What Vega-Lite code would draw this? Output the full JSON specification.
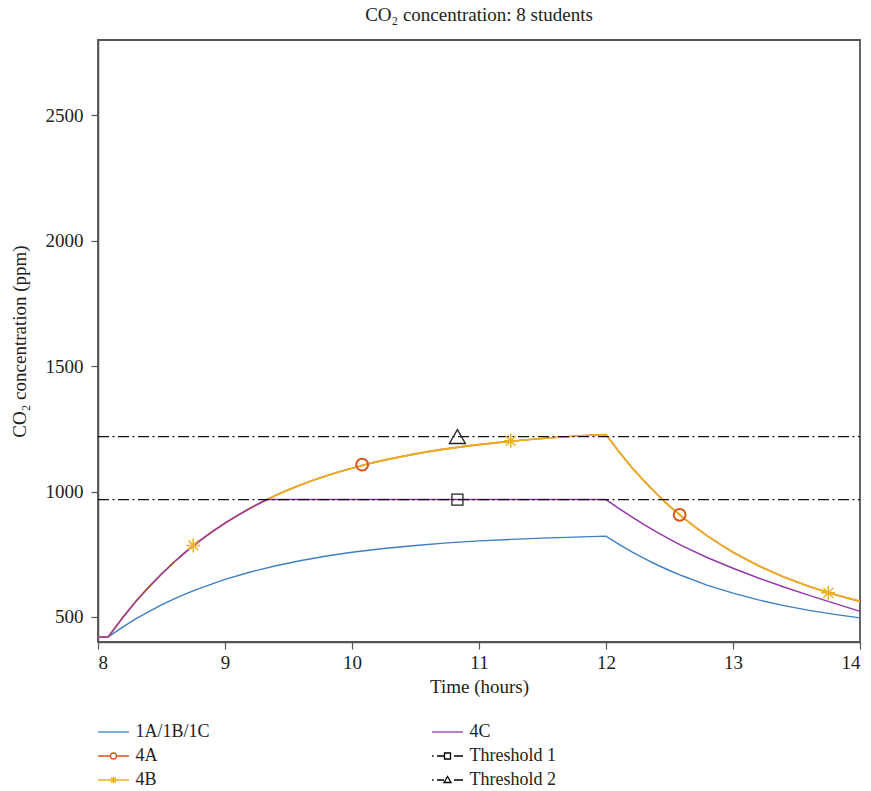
{
  "$schema": "https://vega.github.io/schema/vega-lite/v6.json",
  "autosize": "none",
  "width": 762,
  "height": 602,
  "padding": {"left": 98, "top": 40, "right": 11, "bottom": 149},
  "background": "white",
  "config": {
    "font": "Liberation Serif",
    "view": {"stroke": "#555", "strokeWidth": 1.8},
    "axis": {
      "labelFont": "Liberation Serif", "labelFontSize": 19, "labelColor": "#222",
      "titleFont": "Liberation Serif", "titleFontSize": 19, "titleFontWeight": "normal", "titleColor": "#222",
      "domainColor": "#555", "domainWidth": 1.5, "tickColor": "#555", "tickSize": 7, "tickWidth": 1.2, "grid": false
    },
    "title": {"font": "Liberation Serif", "fontSize": 19, "fontWeight": "normal", "color": "#222", "offset": 15}
  },
  "title": "CO₂ concentration: 8 students",
  "datasets": {
    "curves": [
      {"s": "1A/1B/1C", "t": 8, "v": 420}, {"s": "1A/1B/1C", "t": 8.08, "v": 420}, {"s": "1A/1B/1C", "t": 8.2, "v": 461}, {"s": "1A/1B/1C", "t": 8.3, "v": 493}, {"s": "1A/1B/1C", "t": 8.4, "v": 521}, {"s": "1A/1B/1C", "t": 8.5, "v": 548}, {"s": "1A/1B/1C", "t": 8.6, "v": 572}, {"s": "1A/1B/1C", "t": 8.7, "v": 594}, {"s": "1A/1B/1C", "t": 8.8, "v": 614}, {"s": "1A/1B/1C", "t": 8.9, "v": 632}, {"s": "1A/1B/1C", "t": 9.0, "v": 650}, {"s": "1A/1B/1C", "t": 9.2, "v": 679}, {"s": "1A/1B/1C", "t": 9.4, "v": 704}, {"s": "1A/1B/1C", "t": 9.6, "v": 725}, {"s": "1A/1B/1C", "t": 9.8, "v": 743}, {"s": "1A/1B/1C", "t": 10.0, "v": 758}, {"s": "1A/1B/1C", "t": 10.25, "v": 773}, {"s": "1A/1B/1C", "t": 10.5, "v": 785}, {"s": "1A/1B/1C", "t": 10.75, "v": 795}, {"s": "1A/1B/1C", "t": 11.0, "v": 803}, {"s": "1A/1B/1C", "t": 11.25, "v": 809}, {"s": "1A/1B/1C", "t": 11.5, "v": 814}, {"s": "1A/1B/1C", "t": 11.75, "v": 818}, {"s": "1A/1B/1C", "t": 12.0, "v": 822},
      {"s": "1A/1B/1C", "t": 12.1, "v": 790}, {"s": "1A/1B/1C", "t": 12.2, "v": 760}, {"s": "1A/1B/1C", "t": 12.3, "v": 733}, {"s": "1A/1B/1C", "t": 12.4, "v": 708}, {"s": "1A/1B/1C", "t": 12.5, "v": 685}, {"s": "1A/1B/1C", "t": 12.6, "v": 664}, {"s": "1A/1B/1C", "t": 12.8, "v": 626}, {"s": "1A/1B/1C", "t": 13.0, "v": 595}, {"s": "1A/1B/1C", "t": 13.2, "v": 568}, {"s": "1A/1B/1C", "t": 13.4, "v": 545}, {"s": "1A/1B/1C", "t": 13.6, "v": 526}, {"s": "1A/1B/1C", "t": 13.8, "v": 510}, {"s": "1A/1B/1C", "t": 14.0, "v": 496},

      {"s": "4A", "t": 8, "v": 420}, {"s": "4A", "t": 8.08, "v": 420}, {"s": "4A", "t": 8.2, "v": 501}, {"s": "4A", "t": 8.3, "v": 563}, {"s": "4A", "t": 8.4, "v": 619}, {"s": "4A", "t": 8.5, "v": 671}, {"s": "4A", "t": 8.6, "v": 719}, {"s": "4A", "t": 8.7, "v": 763}, {"s": "4A", "t": 8.8, "v": 803}, {"s": "4A", "t": 8.9, "v": 840}, {"s": "4A", "t": 9.0, "v": 874}, {"s": "4A", "t": 9.1, "v": 905}, {"s": "4A", "t": 9.2, "v": 934}, {"s": "4A", "t": 9.3, "v": 960}, {"s": "4A", "t": 9.4, "v": 985}, {"s": "4A", "t": 9.5, "v": 1007}, {"s": "4A", "t": 9.6, "v": 1027}, {"s": "4A", "t": 9.7, "v": 1046}, {"s": "4A", "t": 9.8, "v": 1063}, {"s": "4A", "t": 9.9, "v": 1079}, {"s": "4A", "t": 10.0, "v": 1093}, {"s": "4A", "t": 10.1, "v": 1107}, {"s": "4A", "t": 10.2, "v": 1119}, {"s": "4A", "t": 10.3, "v": 1130}, {"s": "4A", "t": 10.4, "v": 1140}, {"s": "4A", "t": 10.5, "v": 1150}, {"s": "4A", "t": 10.6, "v": 1159}, {"s": "4A", "t": 10.7, "v": 1167}, {"s": "4A", "t": 10.8, "v": 1174}, {"s": "4A", "t": 10.9, "v": 1181}, {"s": "4A", "t": 11.0, "v": 1187}, {"s": "4A", "t": 11.2, "v": 1198}, {"s": "4A", "t": 11.4, "v": 1207}, {"s": "4A", "t": 11.6, "v": 1215}, {"s": "4A", "t": 11.8, "v": 1222}, {"s": "4A", "t": 12.0, "v": 1227},
      {"s": "4A", "t": 12.05, "v": 1193}, {"s": "4A", "t": 12.1, "v": 1160}, {"s": "4A", "t": 12.2, "v": 1098}, {"s": "4A", "t": 12.3, "v": 1042}, {"s": "4A", "t": 12.4, "v": 990}, {"s": "4A", "t": 12.5, "v": 942}, {"s": "4A", "t": 12.6, "v": 899}, {"s": "4A", "t": 12.7, "v": 859}, {"s": "4A", "t": 12.8, "v": 822}, {"s": "4A", "t": 12.9, "v": 789}, {"s": "4A", "t": 13.0, "v": 758}, {"s": "4A", "t": 13.2, "v": 704}, {"s": "4A", "t": 13.4, "v": 659}, {"s": "4A", "t": 13.6, "v": 621}, {"s": "4A", "t": 13.8, "v": 589}, {"s": "4A", "t": 14.0, "v": 562},

      {"s": "4B", "t": 8, "v": 420}, {"s": "4B", "t": 8.08, "v": 420}, {"s": "4B", "t": 8.2, "v": 501}, {"s": "4B", "t": 8.3, "v": 563}, {"s": "4B", "t": 8.4, "v": 619}, {"s": "4B", "t": 8.5, "v": 671}, {"s": "4B", "t": 8.6, "v": 719}, {"s": "4B", "t": 8.7, "v": 763}, {"s": "4B", "t": 8.8, "v": 803}, {"s": "4B", "t": 8.9, "v": 840}, {"s": "4B", "t": 9.0, "v": 874}, {"s": "4B", "t": 9.1, "v": 905}, {"s": "4B", "t": 9.2, "v": 934}, {"s": "4B", "t": 9.3, "v": 960}, {"s": "4B", "t": 9.4, "v": 985}, {"s": "4B", "t": 9.5, "v": 1007}, {"s": "4B", "t": 9.6, "v": 1027}, {"s": "4B", "t": 9.7, "v": 1046}, {"s": "4B", "t": 9.8, "v": 1063}, {"s": "4B", "t": 9.9, "v": 1079}, {"s": "4B", "t": 10.0, "v": 1093}, {"s": "4B", "t": 10.1, "v": 1107}, {"s": "4B", "t": 10.2, "v": 1119}, {"s": "4B", "t": 10.3, "v": 1130}, {"s": "4B", "t": 10.4, "v": 1140}, {"s": "4B", "t": 10.5, "v": 1150}, {"s": "4B", "t": 10.6, "v": 1159}, {"s": "4B", "t": 10.7, "v": 1167}, {"s": "4B", "t": 10.8, "v": 1174}, {"s": "4B", "t": 10.9, "v": 1181}, {"s": "4B", "t": 11.0, "v": 1187}, {"s": "4B", "t": 11.2, "v": 1198}, {"s": "4B", "t": 11.4, "v": 1207}, {"s": "4B", "t": 11.6, "v": 1215}, {"s": "4B", "t": 11.8, "v": 1222}, {"s": "4B", "t": 12.0, "v": 1227},
      {"s": "4B", "t": 12.05, "v": 1193}, {"s": "4B", "t": 12.1, "v": 1160}, {"s": "4B", "t": 12.2, "v": 1098}, {"s": "4B", "t": 12.3, "v": 1042}, {"s": "4B", "t": 12.4, "v": 990}, {"s": "4B", "t": 12.5, "v": 942}, {"s": "4B", "t": 12.6, "v": 899}, {"s": "4B", "t": 12.7, "v": 859}, {"s": "4B", "t": 12.8, "v": 822}, {"s": "4B", "t": 12.9, "v": 789}, {"s": "4B", "t": 13.0, "v": 758}, {"s": "4B", "t": 13.2, "v": 704}, {"s": "4B", "t": 13.4, "v": 659}, {"s": "4B", "t": 13.6, "v": 621}, {"s": "4B", "t": 13.8, "v": 589}, {"s": "4B", "t": 14.0, "v": 562},

      {"s": "4C", "t": 8, "v": 420}, {"s": "4C", "t": 8.08, "v": 420}, {"s": "4C", "t": 8.2, "v": 501}, {"s": "4C", "t": 8.3, "v": 563}, {"s": "4C", "t": 8.4, "v": 619}, {"s": "4C", "t": 8.5, "v": 671}, {"s": "4C", "t": 8.6, "v": 719}, {"s": "4C", "t": 8.7, "v": 763}, {"s": "4C", "t": 8.8, "v": 803}, {"s": "4C", "t": 8.9, "v": 840}, {"s": "4C", "t": 9.0, "v": 874}, {"s": "4C", "t": 9.1, "v": 905}, {"s": "4C", "t": 9.2, "v": 934}, {"s": "4C", "t": 9.3, "v": 960}, {"s": "4C", "t": 9.331, "v": 968}, {"s": "4C", "t": 12.0, "v": 968},
      {"s": "4C", "t": 12.1, "v": 933}, {"s": "4C", "t": 12.2, "v": 900}, {"s": "4C", "t": 12.3, "v": 868}, {"s": "4C", "t": 12.4, "v": 838}, {"s": "4C", "t": 12.5, "v": 810}, {"s": "4C", "t": 12.6, "v": 783}, {"s": "4C", "t": 12.8, "v": 736}, {"s": "4C", "t": 13.0, "v": 694}, {"s": "4C", "t": 13.2, "v": 655}, {"s": "4C", "t": 13.4, "v": 619}, {"s": "4C", "t": 13.6, "v": 586}, {"s": "4C", "t": 13.8, "v": 554}, {"s": "4C", "t": 14.0, "v": 522},

      {"s": "Threshold 1", "t": 8, "v": 968}, {"s": "Threshold 1", "t": 14, "v": 968},
      {"s": "Threshold 2", "t": 8, "v": 1219}, {"s": "Threshold 2", "t": 14, "v": 1219}
    ],
    "markers": [
      {"s": "4A", "t": 10.08, "v": 1107}, {"s": "4A", "t": 12.58, "v": 907},
      {"s": "4B", "t": 8.75, "v": 785}, {"s": "4B", "t": 11.25, "v": 1202}, {"s": "4B", "t": 13.75, "v": 596},
      {"s": "Threshold 1", "t": 10.83, "v": 968},
      {"s": "Threshold 2", "t": 10.83, "v": 1219}
    ]
  },
  "encoding": {
    "x": {"field": "t", "type": "quantitative", "scale": {"domain": [8, 14], "nice": false, "zero": false},
          "axis": {"title": "Time (hours)", "values": [8, 9, 10, 11, 12, 13, 14], "labelPadding": 4, "titlePadding": 5}},
    "y": {"field": "v", "type": "quantitative", "scale": {"domain": [400, 2800], "nice": false, "zero": false},
          "axis": {"title": "CO₂ concentration (ppm)", "values": [500, 1000, 1500, 2000, 2500], "format": "d", "labelPadding": 8, "titlePadding": 16}}
  },
  "layer": [
    {
      "data": {"name": "curves"},
      "transform": [{"filter": {"field": "s", "equal": "1A/1B/1C"}}],
      "mark": {"type": "line", "strokeWidth": 1.4, "color": "#3d7fc5"}
    },
    {
      "data": {"name": "curves"},
      "transform": [{"filter": {"field": "s", "equal": "4A"}}],
      "mark": {"type": "line", "strokeWidth": 1.6, "color": "#D95319"}
    },
    {
      "data": {"name": "curves"},
      "transform": [{"filter": {"field": "s", "equal": "4B"}}],
      "mark": {"type": "line", "strokeWidth": 1.6, "color": "#EDB120"}
    },
    {
      "data": {"name": "curves"},
      "transform": [{"filter": {"field": "s", "equal": "4C"}}],
      "mark": {"type": "line", "strokeWidth": 1.5, "color": "#9437ad"}
    },
    {
      "data": {"name": "curves"},
      "transform": [{"filter": {"field": "s", "oneOf": ["Threshold 1", "Threshold 2"]}}],
      "mark": {"type": "line", "strokeWidth": 1.3, "strokeDash": [11, 3.5, 2, 3.5], "color": "#111"},
      "encoding": {"detail": {"field": "s"}}
    },
    {
      "data": {"name": "markers"},
      "transform": [{"filter": {"field": "s", "equal": "4A"}}],
      "mark": {"type": "point", "shape": "circle", "filled": false, "color": "#D95319", "size": 140, "strokeWidth": 2, "opacity": 1}
    },
    {
      "data": {"name": "markers"},
      "transform": [{"filter": {"field": "s", "equal": "4B"}}],
      "mark": {"type": "point", "shape": "M0,-1L0,1M-1,0L1,0M-0.7,-0.7L0.7,0.7M-0.7,0.7L0.7,-0.7", "filled": false, "color": "#EDB120", "size": 196, "strokeWidth": 1.5, "opacity": 1}
    },
    {
      "data": {"name": "markers"},
      "transform": [{"filter": {"field": "s", "equal": "Threshold 1"}}],
      "mark": {"type": "point", "shape": "square", "filled": false, "color": "#222", "size": 121, "strokeWidth": 1.3, "opacity": 1}
    },
    {
      "data": {"name": "markers"},
      "transform": [{"filter": {"field": "s", "equal": "Threshold 2"}}],
      "mark": {"type": "point", "shape": "triangle-up", "filled": false, "color": "#222", "size": 256, "strokeWidth": 1.3, "opacity": 1}
    },
    {
      "data": {"name": "markers"},
      "transform": [{"filter": "false"}],
      "mark": {"type": "point", "filled": false, "opacity": 1},
      "encoding": {
        "color": {"field": "s", "type": "nominal",
          "scale": {"domain": ["1A/1B/1C", "4A", "4B", "4C", "Threshold 1", "Threshold 2"],
                    "range": ["#3d7fc5", "#D95319", "#EDB120", "#9437ad", "#000000", "#000000"]},
          "legend": {"orient": "none", "legendX": 4.5, "legendY": 681, "columns": 2, "columnPadding": 218, "rowPadding": 4,
                     "title": null, "labelFont": "Liberation Serif", "labelFontSize": 18, "labelColor": "#222",
                     "symbolSize": 400, "symbolStrokeWidth": 1.3, "labelOffset": 11}},
        "shape": {"field": "s", "type": "nominal",
          "scale": {"domain": ["1A/1B/1C", "4A", "4B", "4C", "Threshold 1", "Threshold 2"],
                    "range": [
                      "M-1.55,0L1.55,0",
                      "M-1.55,0L-0.3,0M0.3,0L1.55,0M-0.3,0A0.3,0.3,0,1,0,0.3,0A0.3,0.3,0,1,0,-0.3,0",
                      "M-1.55,0L1.55,0M0,-0.35L0,0.35M-0.35,0L0.35,0M-0.25,-0.25L0.25,0.25M-0.25,0.25L0.25,-0.25",
                      "M-1.55,0L1.55,0",
                      "M-1.55,0L-1.4,0M-1.05,0L-0.3,0M-0.3,-0.3L0.3,-0.3L0.3,0.3L-0.3,0.3ZM0.65,0L1.55,0",
                      "M-1.55,0L-1.4,0M-1.05,0L-0.35,0M-0.35,0.25L0,-0.35L0.35,0.25ZM0.65,0L1.55,0"
                    ]},
          "legend": {"orient": "none", "legendX": 4.5, "legendY": 681, "columns": 2, "columnPadding": 218, "rowPadding": 4,
                     "title": null, "labelFont": "Liberation Serif", "labelFontSize": 18, "labelColor": "#222",
                     "symbolSize": 400, "symbolStrokeWidth": 1.3, "labelOffset": 11}}
      }
    }
  ]
}
